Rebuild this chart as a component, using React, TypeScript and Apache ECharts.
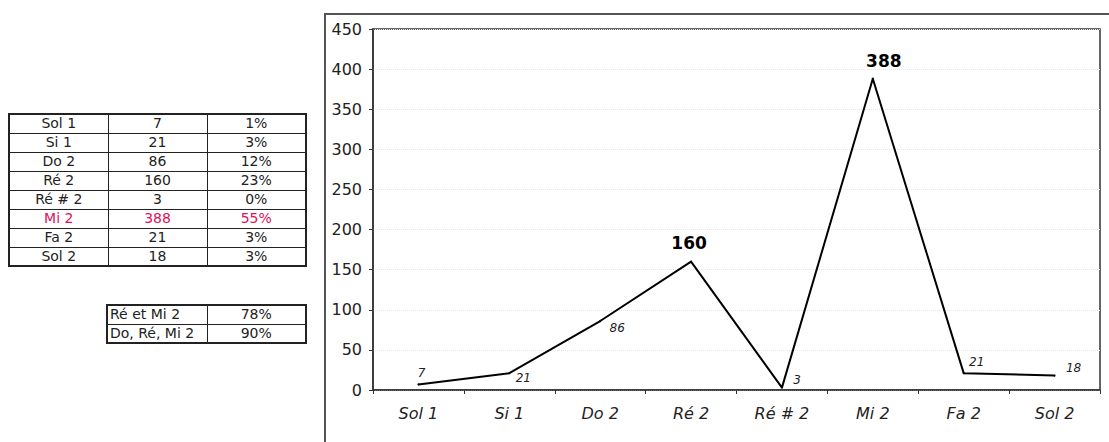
import React, { useEffect, useRef } from "react";
import * as echarts from "echarts";

const notes = ["Sol 1", "Si 1", "Do 2", "Ré 2", "Ré # 2", "Mi 2", "Fa 2", "Sol 2"];
const counts = [7, 21, 86, 160, 3, 388, 21, 18];
const percents = ["1%", "3%", "12%", "23%", "0%", "55%", "3%", "3%"];
const comboNames = ["Ré et Mi 2", "Do, Ré, Mi 2"];
const comboPercents = ["78%", "90%"];
const yTicks = [0, 50, 100, 150, 200, 250, 300, 350, 400, 450];

// label placement per point (style only)
const labelOffsets: [number, number][] = [
  [3, -11], [14, 5], [17, 7], [-2, -19], [15, -8], [11, -18], [13, -11], [19, -8],
];
const bigLabels = [false, false, false, true, false, true, false, false];
const highlightRow = 5;

const FONT = "'DejaVu Sans', Verdana, sans-serif";

const cellBase: React.CSSProperties = {
  border: "1px solid #222",
  padding: 0,
  textAlign: "center",
  overflow: "hidden",
  whiteSpace: "nowrap",
  lineHeight: "17px",
};

export default function App() {
  const ref = useRef<HTMLDivElement>(null);
  useEffect(() => {
    if (!ref.current) return;
    const chart = echarts.init(ref.current, undefined, { renderer: "svg" });
    chart.setOption({
      animation: false,
      textStyle: { fontFamily: FONT },
      grid: {
        left: 373,
        right: 9,
        top: 29,
        bottom: 52,
        show: true,
        borderColor: "#333",
        borderWidth: 1.5,
        backgroundColor: "transparent",
      },
      graphic: [
        {
          type: "polyline",
          shape: { points: [[325, 442], [325, 14], [1109, 14]] },
          style: { stroke: "#555", lineWidth: 2, fill: "none" },
        },
      ],
      xAxis: {
        type: "category",
        data: notes,
        boundaryGap: true,
        axisLine: { lineStyle: { color: "#333", width: 1.5 } },
        axisTick: { show: true, length: 4, lineStyle: { color: "#333" } },
        axisLabel: {
          fontStyle: "italic",
          fontSize: 16,
          color: "#222",
          margin: 15,
          fontFamily: FONT,
        },
        splitLine: { show: false },
      },
      yAxis: {
        type: "value",
        min: yTicks[0],
        max: yTicks[yTicks.length - 1],
        interval: 50,
        axisLine: { show: true, lineStyle: { color: "#333", width: 1.5 } },
        axisTick: { show: true, length: 4, lineStyle: { color: "#333" } },
        axisLabel: {
          fontSize: 16,
          color: "#222",
          margin: 11,
          fontFamily: FONT,
        },
        splitLine: { show: true, lineStyle: { color: "#e6e6e6", type: "dotted", width: 1 } },
      },
      series: [
        {
          type: "line",
          data: counts.map((v, i) => ({
            value: v,
            label: {
              show: true,
              position: "inside",
              offset: labelOffsets[i],
              formatter: String(v),
              fontFamily: FONT,
              fontSize: bigLabels[i] ? 17 : 12,
              fontWeight: bigLabels[i] ? "bold" : "normal",
              fontStyle: bigLabels[i] ? "normal" : "italic",
              color: bigLabels[i] ? "#000" : "#222",
            },
          })),
          symbol: "circle",
          symbolSize: 2,
          itemStyle: { color: "#000" },
          lineStyle: { color: "#000", width: 2 },
        },
      ],
    });
    return () => chart.dispose();
  }, []);

  const tableStyle: React.CSSProperties = {
    position: "absolute",
    borderCollapse: "collapse",
    tableLayout: "fixed",
    border: "2px solid #222",
    fontFamily: FONT,
    fontSize: 14,
    color: "#222",
  };

  return (
    <div style={{ position: "absolute", left: 0, top: 0, width: 1109, height: 442, background: "#fff" }}>
      <table style={{ ...tableStyle, left: 8, top: 113, width: 297 }}>
        <colgroup>
          <col style={{ width: 99 }} />
          <col style={{ width: 99 }} />
          <col style={{ width: 99 }} />
        </colgroup>
        <tbody>
          {notes.map((n, i) => {
            const c = i === highlightRow ? "#e0105a" : "#222";
            return (
              <tr key={n} style={{ height: 19 }}>
                <td style={{ ...cellBase, color: c }}>{n}</td>
                <td style={{ ...cellBase, color: c }}>{counts[i]}</td>
                <td style={{ ...cellBase, color: c }}>{percents[i]}</td>
              </tr>
            );
          })}
        </tbody>
      </table>
      <table style={{ ...tableStyle, left: 106, top: 304, width: 199 }}>
        <colgroup>
          <col style={{ width: 100 }} />
          <col style={{ width: 99 }} />
        </colgroup>
        <tbody>
          {comboNames.map((n, i) => (
            <tr key={n} style={{ height: 19 }}>
              <td style={{ ...cellBase, textAlign: "left", paddingLeft: 2 }}>{n}</td>
              <td style={{ ...cellBase }}>{comboPercents[i]}</td>
            </tr>
          ))}
        </tbody>
      </table>
      <div ref={ref} style={{ position: "absolute", left: 0, top: 0, width: 1109, height: 442 }} />
    </div>
  );
}
